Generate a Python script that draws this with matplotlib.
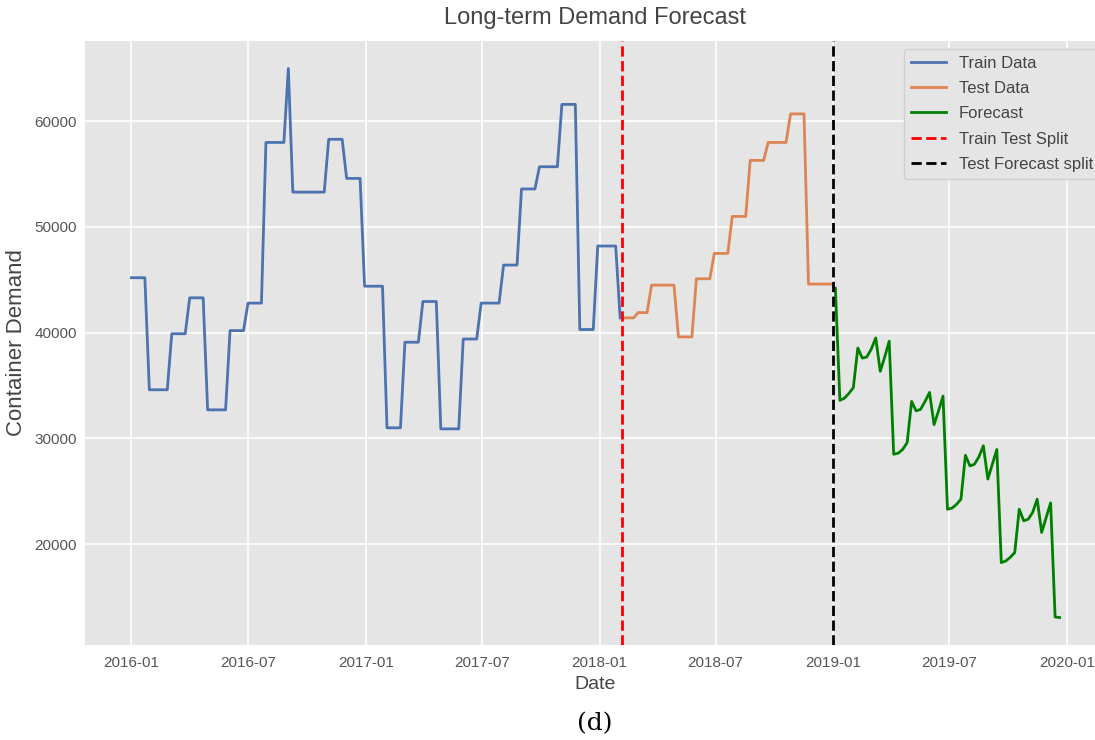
import pandas as pd
import matplotlib
matplotlib.use("Agg")
import matplotlib.pyplot as plt
import matplotlib.dates as mdates

# Weekly container demand (train / test) and the model forecast
series_start = "2016-01-01"

train_values = [
    45200, 45200, 45200, 45200,
    34600, 34600, 34600, 34600, 34600,
    39900, 39900, 39900, 39900,
    43300, 43300, 43300, 43300,
    32700, 32700, 32700, 32700, 32700,
    40200, 40200, 40200, 40200,
    42800, 42800, 42800, 42800,
    58000, 58000, 58000, 58000, 58000,
    65000,
    53300, 53300, 53300, 53300, 53300, 53300, 53300, 53300,
    58300, 58300, 58300, 58300,
    54600, 54600, 54600, 54600,
    44400, 44400, 44400, 44400, 44400,
    31000, 31000, 31000, 31000,
    39100, 39100, 39100, 39100,
    42950, 42950, 42950, 42950,
    30900, 30900, 30900, 30900, 30900,
    39400, 39400, 39400, 39400,
    42800, 42800, 42800, 42800, 42800,
    46400, 46400, 46400, 46400,
    53600, 53600, 53600, 53600,
    55700, 55700, 55700, 55700, 55700,
    61600, 61600, 61600, 61600,
    40300, 40300, 40300, 40300,
    48200, 48200, 48200, 48200, 48200,
    41400,
]

test_values = [
    41400, 41400, 41400,
    41900, 41900, 41900,
    44500, 44500, 44500, 44500, 44500, 44500,
    39600, 39600, 39600, 39600,
    45100, 45100, 45100, 45100,
    47500, 47500, 47500, 47500,
    51000, 51000, 51000, 51000,
    56300, 56300, 56300, 56300,
    58000, 58000, 58000, 58000, 58000,
    60700, 60700, 60700, 60700,
    44600, 44600, 44600, 44600, 44600, 44600,
]

forecast_values = [
    44200,
    33600, 33800, 34250, 34800, 38550, 37600, 37700, 38450, 39500, 36350, 37700, 39200,
    28500, 28600, 28950, 29600, 33500, 32600, 32750, 33500, 34350, 31300, 32600, 34000,
    23300, 23400, 23750, 24250, 28400, 27400, 27550, 28250, 29300, 26150, 27550, 28950,
    18250, 18400, 18750, 19200, 23300, 22200, 22350, 23000, 24250, 21100, 22500, 23900,
    13100, 13050,
]

train_test_split = "2018-02-05"
test_forecast_split = "2019-01-01"

n_train = len(train_values)
n_test = len(test_values)
n_fc = len(forecast_values)
dates = pd.date_range(series_start, periods=n_train + n_test + n_fc, freq="7D")
train_dates = dates[:n_train]
test_dates = dates[n_train:n_train + n_test]
forecast_dates = dates[n_train + n_test:]

plt.rcParams["font.family"] = ["Liberation Sans", "DejaVu Sans"]

fig = plt.figure(figsize=(10.95, 7.4), dpi=100)
ax = fig.add_axes([85 / 1095, 95 / 740, 1021 / 1095, 604 / 740])
ax.set_facecolor("#E5E5E5")
for s in ax.spines.values():
    s.set_visible(False)
ax.grid(True, color="white", linewidth=1.2)
ax.set_axisbelow(True)

ax.plot(train_dates, train_values, color="#4C72B0", lw=2, label="Train Data")
ax.plot(test_dates, test_values, color="#DD8452", lw=2, label="Test Data")
ax.plot(forecast_dates, forecast_values, color="green", lw=2, label="Forecast")
ax.axvline(pd.Timestamp(train_test_split), color="red", ls="--", lw=2,
           label="Train Test Split")
ax.axvline(pd.Timestamp(test_forecast_split), color="black", ls="--", lw=2,
           label="Test Forecast split")

ax.xaxis.set_major_locator(mdates.MonthLocator(bymonth=[1, 7]))
ax.xaxis.set_major_formatter(mdates.DateFormatter("%Y-%m"))
ax.tick_params(axis="both", length=0, labelsize=11, labelcolor="#555555")
ax.tick_params(axis="x", pad=8)
ax.tick_params(axis="y", pad=6)

ax.set_title("Long-term Demand Forecast", fontsize=17, color="#444444", pad=12)
ax.set_xlabel("Date", fontsize=14, color="#444444", labelpad=4)
ax.set_ylabel("Container Demand", fontsize=16, color="#444444", labelpad=5)

leg = ax.legend(loc="upper right", bbox_to_anchor=(1100 / 1095, 1 - 49 / 740),
                bbox_transform=fig.transFigure, borderaxespad=0,
                fontsize=12, labelspacing=0.62, handlelength=2.1,
                frameon=True, framealpha=1,
                facecolor="#E5E5E5", edgecolor="#D0D0D0")
for t in leg.get_texts():
    t.set_color("#444444")

fig.text(595 / 1095, 1 - 724 / 740, "(d)", ha="center", va="center",
         fontsize=18, family=["DejaVu Serif"], color="black")

fig.savefig("out.png", dpi=100)
